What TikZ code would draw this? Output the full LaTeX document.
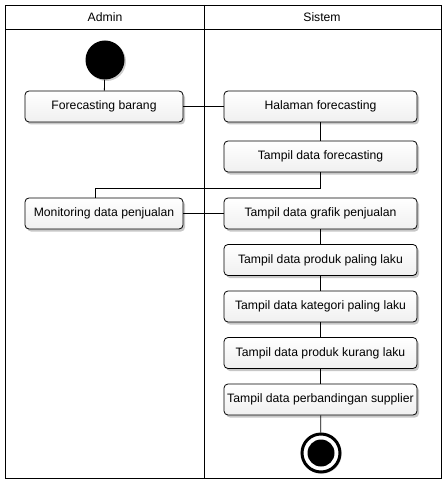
\documentclass[tikz,border=0pt]{standalone}
\usepackage{fontspec}
\setmainfont{Liberation Sans}
\usetikzlibrary{shadows}
\begin{document}
\begin{tikzpicture}[x=1bp,y=-1bp,
  line/.style={draw=black,line width=0.8bp},
  act/.style={line,rounded corners=4bp,minimum height=31bp,inner sep=0pt,
    top color=white,bottom color=black!6,
    drop shadow={shadow xshift=2bp,shadow yshift=-2.5bp,opacity=0.22,fill=black},
    font=\fontsize{12.2bp}{14bp}\selectfont},
  admact/.style={act,minimum width=158bp},
  sysact/.style={act,minimum width=193bp},
  lanehead/.style={font=\fontsize{12.2bp}{14bp}\selectfont}]
\useasboundingbox (0,0) rectangle (447,484);
% swimlane frame
\draw[line] (5,5) rectangle (441,478);
\draw[line] (5,29) -- (441,29);
\draw[line] (204,5) -- (204,478);
\node[lanehead] (hadmin) at (105,17) {Admin};
\node[lanehead] (hsys) at (322,17) {Sistem};
% start node
\node[circle,fill=black,minimum size=39bp,inner sep=0pt,
  drop shadow={shadow xshift=1.5bp,shadow yshift=-1.5bp,opacity=0.2,fill=black}] (start) at (105,60) {};
% activities
\node[admact] (fb) at (104,106.5) {Forecasting barang};
\node[sysact] (hf) at (320.5,106.5) {Halaman forecasting};
\node[sysact] (tf) at (320.5,156.5) {Tampil data forecasting};
\node[admact] (mp) at (104,213.5) {Monitoring data penjualan};
\node[sysact] (gp) at (320.5,213.5) {Tampil data grafik penjualan};
\node[sysact] (pp) at (320.5,260) {Tampil data produk paling laku};
\node[sysact] (kp) at (320.5,306.5) {Tampil data kategori paling laku};
\node[sysact] (pk) at (320.5,353) {Tampil data produk kurang laku};
\node[sysact] (ps) at (320.5,399.5) {Tampil data perbandingan supplier};
% end node
\node[circle,draw=black,line width=3bp,fill=white,minimum size=38bp,inner sep=0pt,
  drop shadow={shadow xshift=1.5bp,shadow yshift=-1.5bp,opacity=0.2,fill=black}] (end) at (321,453) {};
\node[circle,fill=black,minimum size=27bp,inner sep=0pt] (endin) at (end) {};
% flows
\coordinate (j1) at (320.5,188);
\coordinate (j2) at (95,188);
\draw[line] (start) -- (fb);
\draw[line] (fb) -- (hf);
\draw[line] (hf) -- (tf);
\draw[line] (tf.south) -- (j1) -- (j2) -- (j2 |- mp.north);
\draw[line] (mp) -- (gp);
\draw[line] (gp) -- (pp);
\draw[line] (pp) -- (kp);
\draw[line] (kp) -- (pk);
\draw[line] (pk) -- (ps);
\draw[line] (ps) -- (end);
\end{tikzpicture}
\end{document}
